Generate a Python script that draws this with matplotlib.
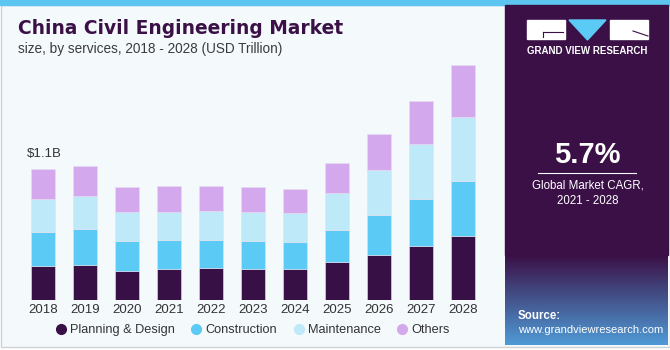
import numpy as np
import matplotlib.pyplot as plt
from matplotlib.patches import Rectangle, Polygon
from matplotlib.lines import Line2D

plt.rcParams['font.family'] = ['Liberation Sans', 'DejaVu Sans']

# Data (USD Trillion)
years = ['2018', '2019', '2020', '2021', '2022', '2023', '2024', '2025', '2026', '2027', '2028']
planning = [0.29, 0.30, 0.25, 0.265, 0.27, 0.26, 0.26, 0.32, 0.38, 0.46, 0.54]
construction = [0.29, 0.30, 0.25, 0.24, 0.24, 0.24, 0.23, 0.27, 0.34, 0.40, 0.47]
maintenance = [0.28, 0.285, 0.245, 0.245, 0.245, 0.245, 0.245, 0.32, 0.38, 0.46, 0.54]
others = [0.25, 0.25, 0.21, 0.215, 0.215, 0.21, 0.205, 0.25, 0.305, 0.37, 0.44]
series_names = ['Planning & Design', 'Construction', 'Maintenance', 'Others']
colors = ['#371045', '#5bcaf5', '#bde9f9', '#d4a8ec']

W, H = 670, 350
fig = plt.figure(figsize=(W / 100, H / 100), dpi=100)

# background layer in pixel coordinates
bg = fig.add_axes([0, 0, 1, 1], zorder=0)
bg.axis('off')
bg.add_patch(Rectangle((0, 0), W, H, color='white'))
bg.add_patch(Rectangle((0.5, 5), W - 1, 342, facecolor='#f4f9fc', edgecolor='#cfd3d6', lw=1))
bg.add_patch(Rectangle((0, 0), W, 5, color='#5cc6f0'))

# right panel
bg.add_patch(Rectangle((505, 5), 163, 250, color='#3a1046'))
grad = np.linspace(0, 1, 100)[:, None]
c0 = np.array([0x3a, 0x10, 0x46]) / 255
c1 = np.array([0x4f, 0x9a, 0xd6]) / 255
img = c0[None, None, :] * (1 - grad[:, :, None]) + c1[None, None, :] * grad[:, :, None]
bg.imshow(img, extent=(505, 668, 345, 255), aspect='auto', zorder=1)
bg.set_xlim(0, W)
bg.set_ylim(H, 0)

# logo
bg.add_patch(Rectangle((527, 20), 38, 19, color='white', zorder=2))
bg.add_patch(Rectangle((610, 20), 38, 19, color='white', zorder=2))
bg.add_patch(Polygon([(569, 20), (606, 20), (587.5, 40)], color='#5bcaf5', zorder=2))
bg.plot([543, 563], [32, 32], color='#3a1046', lw=0.8, zorder=3)
bg.plot([543, 543], [32, 37], color='#3a1046', lw=0.8, zorder=3)
bg.plot([633, 648], [31, 36], color='#3a1046', lw=0.8, zorder=3)
bg.text(587.5, 51, 'GRAND VIEW RESEARCH', color='white', fontsize=7, fontweight='bold',
        ha='center', va='center', zorder=3)

bg.text(587.5, 155, '5.7%', color='white', fontsize=21, fontweight='bold',
        ha='center', va='center', zorder=3)
bg.plot([538, 636], [173, 173], color='white', lw=0.8, zorder=3)
bg.text(587.5, 185, 'Global Market CAGR,', color='white', fontsize=8.3, ha='center', va='center', zorder=3)
bg.text(587.5, 201, '2021 - 2028', color='white', fontsize=8.3, ha='center', va='center', zorder=3)
bg.text(518, 316, 'Source:', color='white', fontsize=8.3, fontweight='bold', ha='left', va='center', zorder=3)
bg.text(518, 330, 'www.grandviewresearch.com', color='white', fontsize=8.0, ha='left', va='center', zorder=3)

# titles
bg.text(18, 28, 'China Civil Engineering Market', color='#3a1046', fontsize=13.4,
        fontweight='bold', family='DejaVu Sans', ha='left', va='center')
bg.text(18, 49, 'size, by services, 2018 - 2028 (USD Trillion)', color='#3c3c3c',
        fontsize=9.8, ha='left', va='center')

# bar chart
ax = fig.add_axes([22 / W, 50 / H, 462 / W, 240 / H], zorder=2)
ax.patch.set_alpha(0)
x = np.arange(len(years))
bottom = np.zeros(len(years))
for vals, col in zip([planning, construction, maintenance, others], colors):
    ax.bar(x, vals, width=0.58, bottom=bottom, color=col, edgecolor='#e6e0ee', linewidth=0.4)
    bottom += np.array(vals)
ax.set_xlim(-0.5, len(years) - 0.5)
ax.set_ylim(0, 240 / 118)
ax.set_xticks(x)
ax.set_xticklabels(years, fontsize=9.5, color='#333333')
ax.tick_params(axis='x', length=0, pad=3)
ax.set_yticks([])
for s in ax.spines.values():
    s.set_visible(False)
ax.text(x[0] - 0.38, bottom[0] + 0.08, '$1.1B', fontsize=9.5, color='#333333', ha='left', va='bottom')

handles = [Line2D([], [], marker='o', linestyle='none', markersize=7, color=c) for c in colors]
fig.legend(handles, series_names, loc='center', bbox_to_anchor=(252 / W, 1 - 330 / H), ncol=4,
           frameon=False, fontsize=9.2, handletextpad=0.2, columnspacing=1.2,
           handlelength=1.0, labelcolor='#333333')

fig.savefig('out.png', dpi=100)
